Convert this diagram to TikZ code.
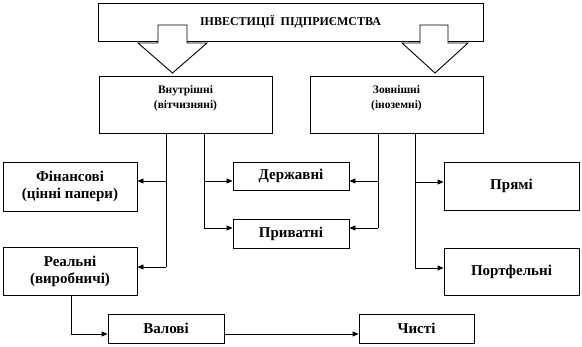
\documentclass[tikz,border=0pt]{standalone}
\usepackage{fontspec}
\setmainfont{Liberation Serif}
\usetikzlibrary{arrows.meta}
\begin{document}
\begin{tikzpicture}[x=1pt,y=-1pt,
  every path/.style={line width=0.9pt},
  box/.style={draw, line width=0.9pt, rectangle, inner sep=0pt, align=center,
    font=\fontsize{15}{17}\selectfont\bfseries},
  txt/.style={inner sep=0pt, align=center, font=\fontsize{11.5}{15}\selectfont\bfseries},
  conn/.style={line width=0.9pt},
  arr/.style={line width=0.9pt, -{Triangle[length=6pt,width=5pt]}},
  blockarrow/.style={draw, fill=white, line width=0.9pt}]
\useasboundingbox (0,0) rectangle (582,346);
% top box
\node[box, minimum width=385pt, minimum height=38pt,
  font=\fontsize{12}{14}\selectfont\bfseries] (top) at (290.5,22) {ІНВЕСТИЦІЇ\ \ ПІДПРИЄМСТВА};
% block arrows
\draw[blockarrow] (158,25) -- (158,43) -- (138,43) -- (172.5,73) -- (207,43) -- (187,43) -- (187,25) -- cycle;
\draw[blockarrow] (420,25) -- (420,43) -- (402,43) -- (435,73) -- (468,43) -- (448,43) -- (448,25) -- cycle;
% second level
\node[box, minimum width=173pt, minimum height=57pt] (vin) at (185.5,104.5) {};
\node[txt] (vintxt) at (185.5,98.5) {Внутрішні\\(вітчизняні)};
\node[box, minimum width=173pt, minimum height=57pt] (zov) at (396.5,104.5) {};
\node[txt] (zovtxt) at (396.5,98.5) {Зовнішні\\(іноземні)};
% third level
\node[box, minimum width=134pt, minimum height=49pt] (fin) at (70,186.5) {Фінансові\\(цінні папери)};
\node[box, minimum width=116pt, minimum height=28pt] (der) at (291,176) {Державні};
\node[box, minimum width=116pt, minimum height=29pt] (pry) at (291,233.5) {Приватні};
\node[box, minimum width=135pt, minimum height=48pt] (pr) at (511.5,186) {Прямі};
\node[box, minimum width=134pt, minimum height=48pt] (real) at (70,271) {Реальні\\(виробничі)};
\node[box, minimum width=135pt, minimum height=47pt] (port) at (511.5,271.5) {Портфельні};
\node[box, minimum width=116pt, minimum height=29pt] (val) at (166,328.5) {Валові};
\node[box, minimum width=115pt, minimum height=29pt] (chy) at (416.5,328.5) {Чисті};
% branch coordinates
\coordinate (a1) at (166,181);
\coordinate (a2) at (166,267);
\coordinate (b1) at (204,181);
\coordinate (b2) at (204,228);
\coordinate (c1) at (378,181);
\coordinate (c2) at (378,228);
\coordinate (d1) at (415,182);
\coordinate (d2) at (415,268);
% connectors from Внутрішні
\draw[conn] (vin.south -| a1) -- (a2);
\draw[arr] (a1) -- (a1 -| fin.east);
\draw[arr] (a2) -- (a2 -| real.east);
\draw[conn] (vin.south -| b1) -- (b2);
\draw[arr] (b1) -- (b1 -| der.west);
\draw[arr] (b2) -- (b2 -| pry.west);
% connectors from Зовнішні
\draw[conn] (zov.south -| c1) -- (c2);
\draw[arr] (c1) -- (c1 -| der.east);
\draw[arr] (c2) -- (c2 -| pry.east);
\draw[conn] (zov.south -| d1) -- (d2);
\draw[arr] (d1) -- (d1 -| pr.west);
\draw[arr] (d2) -- (d2 -| port.west);
% bottom
\coordinate (e1) at (71,334);
\draw[arr] (real.south -| e1) -- (e1) -- (e1 -| val.west);
\draw[arr] (val.east |- e1) -- (e1 -| chy.west);
\end{tikzpicture}
\end{document}
